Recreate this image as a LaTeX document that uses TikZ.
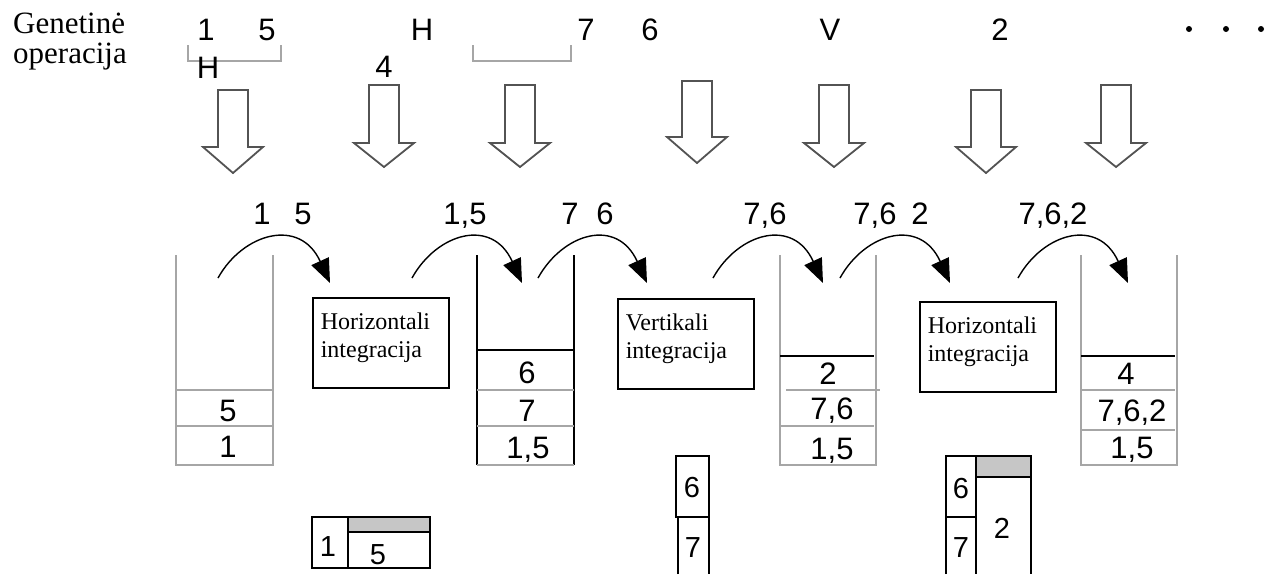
\documentclass[tikz,border=0pt]{standalone}
\usepackage{fontspec}
\setmainfont{Liberation Serif}
\newfontfamily\digfont{Liberation Sans}
\usetikzlibrary{arrows.meta}

\begin{document}
\begin{tikzpicture}[x=1pt,y=-1pt,
  dig/.style={font=\digfont\fontsize{31}{32}\selectfont, inner sep=0pt, anchor=base},
  smalldig/.style={font=\digfont\fontsize{29}{30}\selectfont, inner sep=0pt, anchor=base},
  caption/.style={font=\fontsize{31}{33}\selectfont, inner sep=0pt, anchor=base west},
  opbox/.style={draw, line width=1.6pt, minimum width=135pt, minimum height=90pt,
    anchor=north west, align=left, text width=120pt, inner xsep=8pt, inner ysep=0pt,
    text depth=43pt, font=\fontsize{24}{28}\selectfont},
  bigarrow/.style={draw=gray!65!black, line width=1.8pt, line join=miter, fill=white},
  curve/.style={line width=1.4pt, -{Triangle[length=24pt,width=19pt]}},
  grayline/.style={draw=gray!70, line width=2.4pt},
  blackline/.style={draw=black, line width=1.8pt},
  cell/.style={draw=black, line width=1.6pt},
  graycell/.style={fill=gray!45, draw=black, line width=1.6pt},
]
\useasboundingbox (0,0) rectangle (1278,574);

% ---- caption on the left
\node[caption] (gen) at (13,33) {Genetinė};
\node[caption] (op)  at (13,63) {operacija};

% ---- sequence of genetic operations
\node[dig] (t1) at (206,40) {1};
\node[dig] (t5) at (267,40) {5};
\node[dig] (tH) at (422,40) {H};
\node[dig] (t7) at (586,40) {7};
\node[dig] (t6) at (650,40) {6};
\node[dig] (tV) at (830,40) {V};
\node[dig] (t2) at (1000,40) {2};
\foreach \x/\n in {1189/d1,1226/d2,1261/d3}
  \fill (\x,29) circle (3) coordinate (\n);

% brackets grouping the operands
\draw[grayline, line width=1.8pt] (188,45) -- (188,61) -- (281,61) -- (281,45);
\draw[grayline, line width=1.8pt] (473,45) -- (473,61) -- (571,61) -- (571,45);
\node[dig] (bH) at (208,78) {H};
\node[dig] (b4) at (384,77) {4};

% ---- hollow down arrows
\foreach \c/\t/\h/\p in {233/90/147/173, 384/85/143/167, 520/85/143/167,
                         697/81/137/163, 834/85/143/167, 986/90/147/173,
                         1116/85/143/167}
  \draw[bigarrow] (\c-15,\t) -- (\c+15,\t) -- (\c+15,\h) -- (\c+30,\h)
     -- (\c,\p) -- (\c-30,\h) -- (\c-15,\h) -- cycle;

% ---- stacks
% stack 1
\draw[grayline] (176,255) -- (176,465) -- (273,465) -- (273,255);
\draw[grayline] (176,390) -- (273,390) (176,426) -- (273,426);
\node[dig] (s1a) at (228,421) {5};
\node[dig] (s1b) at (228,457) {1};
% stack 2
\draw[blackline] (477,255) -- (477,465) (574,465) -- (574,255);
\draw[grayline] (477,465) -- (574,465);
\draw[blackline] (477,350) -- (574,350);
\draw[grayline] (477,390) -- (574,390) (477,426) -- (574,426);
\node[dig] (s2a) at (527,383) {6};
\node[dig] (s2b) at (527,421) {7};
\node[dig] (s2c) at (528,458) {1,5};
% stack 3
\draw[grayline] (780,255) -- (780,465) -- (876,465) -- (876,255);
\draw[blackline] (780,356) -- (874,356);
\draw[grayline] (786,390) -- (880,390) (780,426) -- (874,426);
\node[dig] (s3a) at (828,384) {2};
\node[dig] (s3b) at (832,419) {7,6};
\node[dig] (s3c) at (832,459) {1,5};
% stack 4
\draw[grayline] (1081,255) -- (1081,465) -- (1177,465) -- (1177,255);
\draw[blackline] (1081,356) -- (1175,356);
\draw[grayline] (1081,390) -- (1175,390) (1081,430) -- (1175,430);
\node[dig] (s4a) at (1126,384) {4};
\node[dig] (s4b) at (1132,421) {7,6,2};
\node[dig] (s4c) at (1132,458) {1,5};

% ---- integration boxes
\node[opbox] (hor1) at (312,297) {Horizontali\\integracija};
\node[opbox] (ver)  at (617,298) {Vertikali\\integracija};
\node[opbox] (hor2) at (919,301) {Horizontali\\integracija};

% ---- transfer arrows with their operands
\foreach \n/\sx/\ex in {c1/218/330, c2/412/522, c3/538/647,
                        c4/713/823, c5/840/950, c6/1018/1128} {
  \coordinate (\n s) at (\sx,278);
  \coordinate (\n e) at (\ex,283);
  \draw[curve] (\n s) .. controls +(25,-45) and +(-30,-66) .. (\n e);
}
\node[dig] (l1a) at (262,224) {1};
\node[dig] (l1b) at (303,224) {5};
\node[dig] (l2)  at (465,224) {1,5};
\node[dig] (l3a) at (570,224) {7};
\node[dig] (l3b) at (605,224) {6};
\node[dig] (l4)  at (765,224) {7,6};
\node[dig] (l5a) at (875,224) {7,6};
\node[dig] (l5b) at (920,224) {2};
\node[dig] (l6)  at (1053,224) {7,6,2};

% ---- partial results below
% block 1 | 5
\draw[cell] (312,517) rectangle (430,568);
\draw[graycell] (348,517) rectangle (430,532);
\draw[cell] (348,517) -- (348,568);
\node[smalldig] (r1a) at (328,556) {1};
\node[smalldig] (r1b) at (378,564) {5};
% blocks 6 over 7
\draw[cell] (676,456) rectangle (709,517);
\draw[cell] (678,574) -- (678,517) -- (709,517) -- (709,574);
\node[smalldig] (r2a) at (692,497) {6};
\node[smalldig] (r2b) at (693,557) {7};
% blocks 6 over 7 beside 2
\draw[cell] (946,574) -- (946,456) -- (976,456) -- (976,574);
\draw[cell] (946,517) -- (976,517);
\draw[graycell] (976,456) rectangle (1031,477);
\draw[cell] (976,477) -- (976,574) (1031,477) -- (1031,574);
\node[smalldig] (r3a) at (961,498) {6};
\node[smalldig] (r3b) at (961,557) {7};
\node[smalldig] (r3c) at (1002,538) {2};
\end{tikzpicture}
\end{document}
